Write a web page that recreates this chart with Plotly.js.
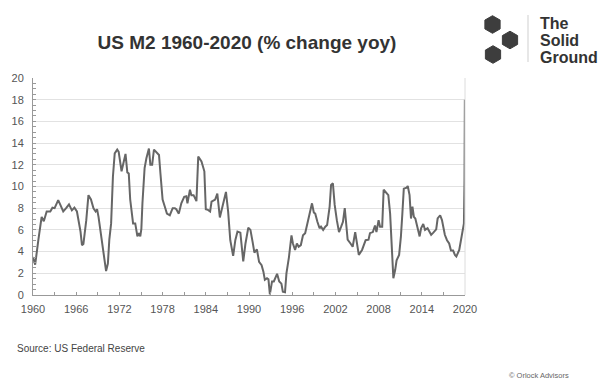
<!DOCTYPE html>
<html>
<head>
<meta charset="utf-8">
<script src="https://cdn.plot.ly/plotly-3.0.1.min.js"></script>
<style>html,body{margin:0;padding:0;background:#fff;}#chart{width:603px;height:381px;}</style>
</head>
<body>
<div id="chart"></div>
<script>
var years = [1960.0,1960.3,1960.75,1961.2,1961.5,1961.9,1962.4,1962.7,1963.0,1963.5,1963.8,1964.2,1964.6,1965.0,1965.4,1965.75,1966.1,1966.3,1966.6,1966.8,1967.0,1967.4,1967.7,1968.05,1968.4,1968.7,1968.9,1969.1,1969.5,1969.8,1970.15,1970.4,1970.6,1970.85,1971.1,1971.35,1971.7,1971.9,1972.3,1972.85,1973.1,1973.3,1973.5,1973.9,1974.2,1974.5,1974.7,1974.9,1975.05,1975.2,1975.5,1975.75,1976.1,1976.3,1976.55,1976.8,1977.1,1977.5,1977.7,1978.0,1978.3,1978.6,1979.0,1979.4,1979.7,1979.9,1980.25,1980.6,1981.0,1981.3,1981.45,1981.8,1982.0,1982.3,1982.7,1982.95,1983.4,1983.8,1984.0,1984.3,1984.6,1984.8,1985.3,1985.6,1985.95,1986.4,1986.8,1987.1,1987.4,1987.8,1988.1,1988.4,1988.8,1989.2,1989.5,1989.9,1990.2,1990.5,1990.75,1991.1,1991.4,1991.75,1992.0,1992.2,1992.5,1992.7,1992.9,1993.2,1993.45,1993.9,1994.2,1994.5,1994.7,1995.0,1995.2,1995.55,1995.9,1996.1,1996.4,1996.65,1996.9,1997.2,1997.5,1997.8,1998.15,1998.45,1998.75,1999.0,1999.2,1999.5,1999.8,2000.0,2000.3,2000.6,2000.85,2001.2,2001.4,2001.65,2001.9,2002.2,2002.5,2002.8,2003.05,2003.3,2003.5,2003.7,2004.1,2004.4,2004.75,2005.25,2005.7,2006.2,2006.6,2006.8,2007.2,2007.5,2007.7,2008.0,2008.2,2008.5,2008.7,2009.05,2009.35,2009.6,2009.8,2010.05,2010.3,2010.5,2010.85,2011.1,2011.3,2011.5,2011.9,2012.05,2012.3,2012.5,2012.7,2012.9,2013.1,2013.35,2013.7,2013.9,2014.2,2014.45,2014.8,2015.05,2015.3,2015.6,2016.0,2016.2,2016.55,2016.8,2017.2,2017.5,2017.8,2018.05,2018.35,2018.6,2018.8,2019.2,2019.5,2019.85,2019.93,2019.98];
var m2Yoy = [3.5,2.8,5.1,7.2,6.8,7.7,7.7,8.05,8.0,8.75,8.3,7.7,8.0,8.35,7.8,8.05,7.7,7.05,5.85,4.6,4.7,6.9,9.2,8.8,8.0,7.7,7.9,7.2,5.4,3.7,2.2,2.9,5.1,6.6,10.9,13.05,13.4,13.2,11.4,13.0,11.3,11.2,8.8,6.6,6.6,5.4,5.7,5.4,6.1,8.45,11.7,12.6,13.5,12.0,12.0,13.4,13.2,12.9,11.2,8.8,8.15,7.5,7.35,8.0,8.0,7.9,7.5,8.45,9.05,9.1,8.45,9.7,9.2,9.2,8.65,12.75,12.3,11.4,7.9,7.85,7.7,8.6,8.8,9.35,7.15,8.45,9.5,7.7,5.05,3.6,5.05,5.85,5.75,3.1,4.7,6.2,6.0,4.9,3.9,4.2,3.05,2.75,2.15,1.4,1.55,1.45,0.05,1.25,1.25,1.95,1.25,1.05,0.3,0.25,2.0,3.5,5.5,4.75,4.15,4.75,4.45,4.6,5.5,5.7,6.75,7.35,8.45,7.6,7.5,6.75,6.15,6.3,6.0,6.3,6.45,8.15,10.15,10.3,8.3,6.9,5.8,6.3,6.75,8.0,6.75,5.1,4.75,4.45,5.8,3.7,4.15,5.05,5.1,5.7,5.8,6.4,5.8,6.9,6.3,6.3,9.7,9.4,9.2,7.5,4.45,1.55,2.3,3.2,3.7,5.4,7.5,9.8,9.9,10.05,9.2,7.05,8.15,7.2,7.05,6.3,5.4,6.15,6.55,6.0,6.15,5.85,5.55,5.75,6.05,7.05,7.35,6.9,5.55,5.05,4.75,4.1,4.1,3.7,3.55,4.15,5.4,6.6,10.5,18.0];
var xTickVals = [1960,1966,1972,1978,1984,1990,1996,2002,2008,2014,2020];
var yTickVals = [0,2,4,6,8,10,12,14,16,18,20];
var titleText = 'US M2 1960-2020 (% change yoy)';
var sourceText = 'Source: US Federal Reserve';
var copyrightText = '\u00a9 Orlock Advisors';
var logoLines = ['The','Solid','Ground'];

var W = 603, H = 381, L = 33, R = 138, T = 78, B = 86;
var pw = W - L - R, ph = H - T - B;
function px(x){ return (x - L) / pw; }
function py(y){ return (H - B - y) / ph; }
function hexPath(cx, cy, r){
  var d = '';
  for (var i = 0; i < 6; i++) {
    var a = Math.PI / 180 * (60 * i - 90);
    var x = px(cx + r * Math.cos(a)), y = py(cy + r * Math.sin(a));
    d += (i === 0 ? 'M' : 'L') + x + ',' + y + ' ';
  }
  return d + 'Z';
}
var hexCenters = [[492.5,24.5],[510,40],[493,54.5]];
var shapes = hexCenters.map(function(c){
  return {type:'path', xref:'paper', yref:'paper', path: hexPath(c[0], c[1], 8.8),
          fillcolor:'#3d3d3d', line:{color:'#3d3d3d', width:1}};
});
shapes.push({type:'line', xref:'paper', yref:'paper', x0:px(528), x1:px(528), y0:py(15), y1:py(62), line:{color:'#cfcfcf', width:1}});
shapes.push({type:'line', xref:'paper', yref:'paper', x0:1, x1:1, y0:0, y1:1, line:{color:'#dcdcdc', width:1}});

var logoY = [24, 41, 58];
var annotations = logoLines.map(function(t, i){
  return {text:'<b>'+t+'</b>', xref:'paper', yref:'paper', x:px(538), y:py(logoY[i]), xanchor:'left', yanchor:'middle',
          showarrow:false, font:{family:'Liberation Sans, Arial, sans-serif', size:16, color:'#333'}};
});
annotations.push({text:sourceText, xref:'paper', yref:'paper', x:px(15), y:py(348), xanchor:'left', yanchor:'middle',
  showarrow:false, font:{family:'Liberation Sans, Arial, sans-serif', size:10, color:'#444'}});
annotations.push({text:copyrightText, xref:'paper', yref:'paper', x:px(571), y:py(375), xanchor:'right', yanchor:'middle',
  showarrow:false, font:{family:'Liberation Sans, Arial, sans-serif', size:7.5, color:'#666'}});

var trace = {x: years, y: m2Yoy, type:'scatter', mode:'lines', line:{color:'#666666', width:2}, hoverinfo:'x+y'};

var layout = {
  width: W, height: H,
  margin: {l:L, r:R, t:T, b:B, pad:0},
  paper_bgcolor:'#fff', plot_bgcolor:'#fff',
  showlegend:false,
  title: {text:'<b>'+titleText+'</b>', xref:'paper', x:px(247), xanchor:'center', yref:'container', y:1-42/H, yanchor:'middle',
          font:{family:'Liberation Sans, Arial, sans-serif', size:19, color:'#333'}},
  xaxis: {range:[1960, 2020], tickvals:xTickVals, ticktext:xTickVals.map(String), ticks:'inside', ticklen:3, tickcolor:'#999',
          minor:{dtick:3, tick0:1960, ticks:'inside', ticklen:3, tickcolor:'#999'},
          showline:true, linecolor:'#999', linewidth:1, showgrid:false, zeroline:false,
          tickfont:{family:'Liberation Sans, Arial, sans-serif', size:11, color:'#555'}, ticklabelstandoff:4},
  yaxis: {range:[0, 20], tickvals:yTickVals, ticks:'inside', ticklen:3, tickcolor:'#999',
          minor:{dtick:0.5, tick0:0, ticks:'inside', ticklen:3, tickcolor:'#999', showgrid:false},
          showline:true, linecolor:'#999', linewidth:1, showgrid:true, gridcolor:'#e2e2e2', gridwidth:1, zeroline:false,
          tickfont:{family:'Liberation Sans, Arial, sans-serif', size:11, color:'#555'}, ticklabelstandoff:6},
  shapes: shapes,
  annotations: annotations
};
Plotly.newPlot('chart', [trace], layout, {displayModeBar:false, staticPlot:true});
</script>
</body>
</html>
